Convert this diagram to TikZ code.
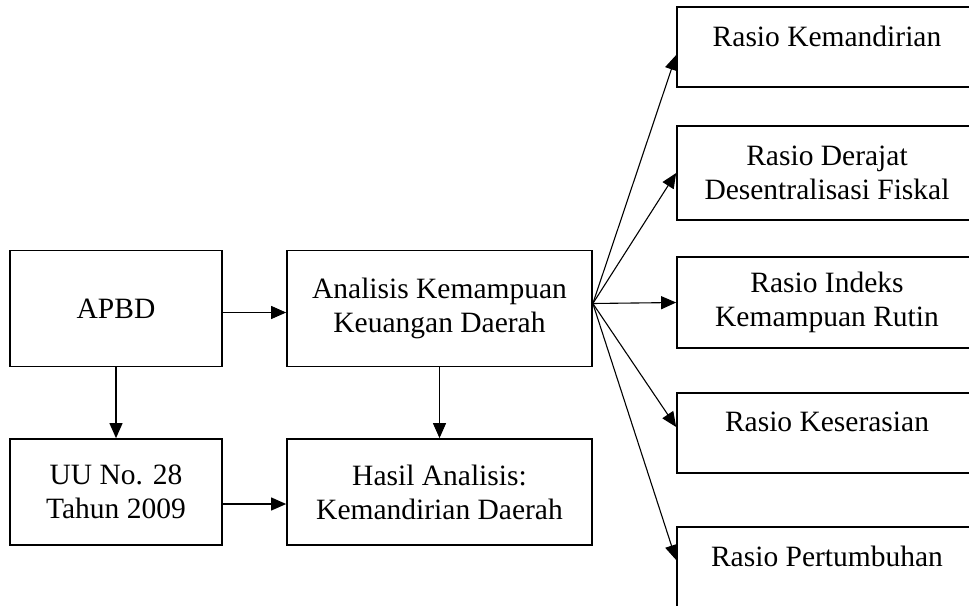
\documentclass[tikz,border=0pt]{standalone}
\usepackage{fontspec}
\setmainfont{Liberation Serif}
\usetikzlibrary{backgrounds}
\usetikzlibrary{arrows.meta}
\tikzset{
  box/.style={draw=black, line width=1.7pt, align=center, inner sep=0pt,
    font=\fontsize{29.5}{34}\selectfont},
  flow/.style={line width=1.1pt, -{Triangle[length=15pt,width=13pt]}},
}

\begin{document}
\begin{tikzpicture}[x=1pt, y=-1pt]
%--------------------------------------------------
\useasboundingbox (0,0) rectangle (969,605);

% left column: data and law
\node[box, minimum width=212pt, minimum height=116pt] (apbd) at (116,308.5) {APBD};
\node[box, minimum width=212pt, minimum height=106pt] (uu) at (116,492) {UU No. 28\\Tahun 2009};

% middle column: analysis and result
\node[box, minimum width=305pt, minimum height=116pt] (ana) at (439.5,308.5) {Analisis Kemampuan\\Keuangan Daerah};
\node[box, minimum width=305pt, minimum height=106pt] (hasil) at (439.5,492) {Hasil Analisis:\\Kemandirian Daerah};

% right column: the ratios
\node[box, minimum width=300pt, minimum height=80pt] (r1) at (827,47) {Rasio Kemandirian\\[-12pt]\mbox{}};
\node[box, minimum width=300pt, minimum height=94pt] (r2) at (827,173) {Rasio Derajat\\Desentralisasi Fiskal};
\node[box, minimum width=300pt, minimum height=91pt] (r3) at (827,302.5) {Rasio Indeks\\Kemampuan Rutin};
\node[box, minimum width=300pt, minimum height=80pt] (r4) at (827,433) {Rasio Keserasian\\[-12pt]\mbox{}};
\node[box, minimum width=300pt, minimum height=80pt] (r5) at (827,567) {Rasio Pertumbuhan\\[-12pt]\mbox{}};

\coordinate (fan) at ([yshift=5pt]ana.east);

\begin{scope}[on background layer]
% arrows between the left boxes
\draw[flow] ([yshift=-4pt]apbd.east) -- ([yshift=-4pt]ana.west);
\draw[flow] (apbd.south) -- (uu.north);
\draw[flow] (ana.south) -- (hasil.north);
\draw[flow] ([yshift=-12pt]uu.east) -- ([yshift=-12pt]hasil.west);

% arrows fanning out to the ratios
\draw[flow] (fan) -- ([yshift=-8pt]r1.west);
\draw[flow] (fan) -- (r2.west);
\draw[flow] (fan) -- (r3.west);
\draw[flow] (fan) -- ([yshift=6pt]r4.west);
\draw[flow] (fan) -- ([yshift=7pt]r5.west);
\end{scope}

%--------------------------------------------------
\end{tikzpicture}
\end{document}
